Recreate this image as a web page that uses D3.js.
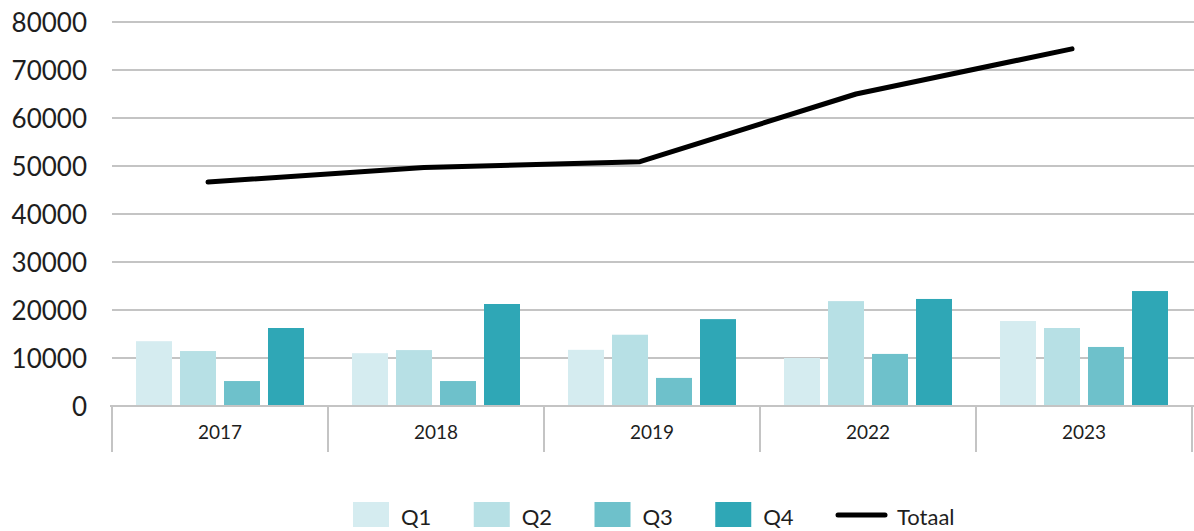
<!DOCTYPE html>
<html>
<head>
<meta charset="utf-8">
<script src="https://cdn.jsdelivr.net/npm/d3@7"></script>
<style>
  html, body { margin: 0; padding: 0; background: #fff; }
  svg { display: block; }
  text { font-family: Lato, "Noto Sans", sans-serif; font-weight: 400; fill: #1e1e1e; }
</style>
</head>
<body>
<svg id="chart" width="1194" height="531"></svg>
<script>
// ---- data ----
const years = ["2017", "2018", "2019", "2022", "2023"];
const quarters = ["Q1", "Q2", "Q3", "Q4"];
const q1 = [13500, 11000, 11700, 10000, 17700];
const q2 = [11450, 11650, 14850, 21850, 16250];
const q3 = [5200, 5200, 5850, 10850, 12300];
const q4 = [16250, 21250, 18100, 22300, 23950];
const totaal = [46650, 49700, 50900, 65000, 74400];
const yTicks = [0, 10000, 20000, 30000, 40000, 50000, 60000, 70000, 80000];
const lineLabel = "Totaal";

const series = [q1, q2, q3, q4];
const colors = ["#d5ecf0", "#b7e0e5", "#6ec1cb", "#2fa7b6"];

// ---- layout ----
const svg = d3.select("#chart");
const plotLeft = 112, plotRight = 1192, plotTop = 22, plotBottom = 406;
const gridColor = "#c4c4c4";

const x = d3.scaleBand().domain(years).range([plotLeft, plotRight]).paddingInner(0).paddingOuter(0);
const xq = d3.scaleBand().domain(quarters).range([0, x.bandwidth()])
  .paddingInner(8 / 44).paddingOuter(24 / 44);
const y = d3.scaleLinear().domain([0, 80000]).range([plotBottom, plotTop]);

// gridlines
svg.append("g").selectAll("line").data(yTicks.filter(d => d > 0)).join("line")
  .attr("x1", plotLeft).attr("x2", 1194)
  .attr("y1", d => y(d)).attr("y2", d => y(d))
  .attr("stroke", gridColor).attr("stroke-width", 2);

// y labels
const yAxis = d3.axisLeft(y).tickValues(yTicks).tickFormat(d3.format("d")).tickSize(0).tickPadding(0);
const gy = svg.append("g").attr("transform", `translate(87,0)`).call(yAxis);
gy.select(".domain").remove();
gy.selectAll("text").attr("font-size", 26).attr("font-family", "Lato, 'Noto Sans', sans-serif")
  .attr("font-weight", 400).attr("fill", "#1e1e1e").attr("dy", "0.36em");

// bars
const barData = [];
years.forEach((yr, i) => quarters.forEach((q, j) => barData.push({ yr, q, v: series[j][i], c: colors[j] })));
svg.append("g").selectAll("rect").data(barData).join("rect")
  .attr("x", d => x(d.yr) + xq(d.q))
  .attr("width", xq.bandwidth())
  .attr("y", d => y(d.v))
  .attr("height", d => y(0) - y(d.v))
  .attr("fill", d => d.c);

// x axis (category boxes)
const xAxisG = svg.append("g");
xAxisG.append("line").attr("x1", plotLeft - 2).attr("x2", 1194)
  .attr("y1", plotBottom).attr("y2", plotBottom).attr("stroke", gridColor).attr("stroke-width", 2);
const bounds = years.map(d => x(d)).concat([plotRight]);
xAxisG.selectAll("line.tick").data(bounds).join("line").attr("class", "tick")
  .attr("x1", d => d).attr("x2", d => d)
  .attr("y1", plotBottom).attr("y2", 452)
  .attr("stroke", gridColor).attr("stroke-width", 2);
xAxisG.selectAll("text").data(years).join("text")
  .attr("x", d => x(d) + x.bandwidth() / 2)
  .attr("y", 439)
  .attr("text-anchor", "middle")
  .attr("font-size", 19)
  .text(d => d);

// line
const lineShift = -12;
const line = d3.line().x((d, i) => x(years[i]) + x.bandwidth() / 2 + lineShift).y(d => y(d));
svg.append("path").datum(totaal).attr("d", line)
  .attr("fill", "none").attr("stroke", "#000").attr("stroke-width", 5)
  .attr("stroke-linecap", "round").attr("stroke-linejoin", "round");

// legend
const legend = svg.append("g");
const legX = d3.scalePoint().domain(quarters.concat([lineLabel])).range([353, 836]);
quarters.forEach((q, j) => {
  const gx = legX(q);
  legend.append("rect").attr("x", gx).attr("y", 502).attr("width", 36).attr("height", 25).attr("fill", colors[j]);
  legend.append("text").attr("x", gx + 48).attr("y", 525).attr("font-size", 22).text(q);
});
const lx = legX(lineLabel);
legend.append("line").attr("x1", lx + 2).attr("x2", lx + 49).attr("y1", 515).attr("y2", 515)
  .attr("stroke", "#000").attr("stroke-width", 5).attr("stroke-linecap", "round");
legend.append("text").attr("x", lx + 61).attr("y", 525).attr("font-size", 22).text(lineLabel);
</script>
</body>
</html>
